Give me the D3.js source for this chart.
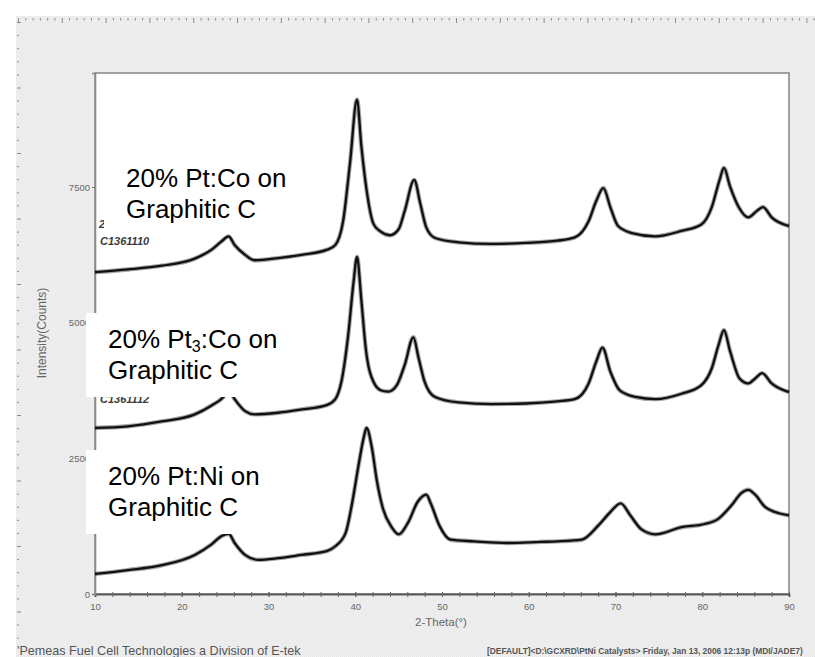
<!DOCTYPE html>
<html>
<head>
<meta charset="utf-8">
<script src="https://cdn.jsdelivr.net/npm/d3@7"></script>
<style>
  html, body { margin: 0; padding: 0; background: #fff; overflow: hidden; }
  svg { display: block; }
  text { font-family: "Liberation Sans", Arial, sans-serif; }
</style>
</head>
<body>
<svg id="chart" width="815" height="657"></svg>
<script>
// XRD patterns of carbon-supported Pt alloy catalysts (stacked, offset baselines)
const ptCoTheta  = [10.0, 13.8, 17.7, 21.5, 23.4, 24.6, 25.4, 26.1, 27.3, 28.4, 31.1, 33.8, 36.7, 37.7, 38.6, 39.4, 40.2, 40.7, 41.3, 42.1, 42.9, 44.0, 45.0, 45.7, 46.8, 47.5, 48.2, 49.2, 51.9, 55.7, 59.6, 63.3, 65.3, 66.9, 67.8, 68.6, 69.4, 70.3, 71.9, 74.6, 77.6, 79.9, 81.1, 82.0, 82.5, 83.2, 84.2, 85.3, 86.3, 87.0, 88.0, 90.0];
const ptCoCounts = [5930, 5980, 6050, 6180, 6340, 6500, 6590, 6430, 6250, 6150, 6190, 6250, 6340, 6430, 6870, 7950, 9110, 8260, 7450, 6820, 6680, 6610, 6720, 7060, 7630, 7190, 6750, 6560, 6480, 6450, 6470, 6510, 6570, 6870, 7250, 7480, 7130, 6780, 6650, 6590, 6690, 6810, 7130, 7630, 7850, 7510, 7130, 6940, 7060, 7130, 6940, 6780];

const pt3CoTheta  = [10.0, 13.8, 17.7, 21.5, 23.4, 24.8, 25.4, 26.1, 27.3, 28.4, 31.1, 33.8, 36.7, 37.7, 38.4, 39.2, 39.8, 40.2, 40.7, 41.2, 42.1, 43.0, 43.8, 44.8, 45.7, 46.7, 47.3, 48.0, 49.2, 51.9, 55.7, 59.6, 63.3, 65.3, 66.9, 67.8, 68.5, 69.4, 70.5, 72.3, 74.6, 77.6, 79.9, 81.1, 81.9, 82.5, 83.2, 84.3, 85.3, 86.1, 86.9, 88.0, 90.0];
const pt3CoCounts = [3060, 3090, 3180, 3310, 3470, 3630, 3760, 3590, 3370, 3310, 3340, 3400, 3480, 3590, 3910, 4790, 5740, 6210, 5420, 4540, 3910, 3750, 3730, 3850, 4220, 4730, 4350, 3910, 3630, 3530, 3500, 3510, 3550, 3590, 3880, 4290, 4540, 4100, 3750, 3630, 3590, 3690, 3850, 4160, 4600, 4860, 4480, 3970, 3880, 3970, 4070, 3880, 3720];

const ptNiTheta  = [10.0, 13.8, 17.7, 21.5, 23.4, 24.6, 25.4, 26.1, 27.3, 28.8, 31.1, 33.8, 36.7, 37.7, 38.9, 39.6, 40.4, 41.0, 41.3, 41.9, 42.5, 43.2, 44.2, 45.0, 46.1, 47.2, 48.2, 48.7, 49.7, 51.0, 53.7, 57.5, 61.4, 63.3, 66.1, 68.0, 69.4, 70.6, 71.7, 73.0, 74.6, 77.6, 80.3, 81.8, 83.4, 84.5, 85.3, 86.1, 87.2, 88.4, 90.0];
const ptNiCounts = [370, 440, 530, 720, 910, 1070, 1110, 940, 720, 630, 660, 720, 790, 880, 1130, 1640, 2390, 2900, 3060, 2710, 2080, 1570, 1230, 1100, 1320, 1700, 1830, 1670, 1260, 1000, 970, 940, 960, 970, 1000, 1260, 1510, 1670, 1450, 1190, 1100, 1230, 1290, 1380, 1640, 1860, 1920, 1830, 1610, 1510, 1450];

const xMajorTicks = [10, 20, 30, 40, 50, 60, 70, 80, 90];
const yMajorTicks = [0, 2500, 5000, 7500];

const sampleLabels = [
  [["20% Pt:Co on"], ["Graphitic C"]],
  [["20% Pt", "3", ":Co on"], ["Graphitic C"]],
  [["20% Pt:Ni on"], ["Graphitic C"]]
];

const svg = d3.select("#chart");
const W = 815, H = 657;

// stippled grey page background
const defs = svg.append("defs");
const pat = defs.append("pattern").attr("id", "stipple")
  .attr("width", 2).attr("height", 2).attr("patternUnits", "userSpaceOnUse");
pat.append("rect").attr("width", 2).attr("height", 2).attr("fill", "#f1f1f1");
pat.append("rect").attr("x", 0).attr("y", 0).attr("width", 1).attr("height", 1).attr("fill", "#e7e7e7");
pat.append("rect").attr("x", 1).attr("y", 1).attr("width", 1).attr("height", 1).attr("fill", "#e9e9e9");

svg.append("rect").attr("width", W).attr("height", H).attr("fill", "#fff");
svg.append("rect").attr("x", 16).attr("y", 16).attr("width", W - 16).attr("height", H - 16)
  .attr("fill", "url(#stipple)");

// page rulers
const ruler = svg.append("g").attr("stroke", "#8a8a8a").attr("stroke-width", 1);
d3.range(0, 110).forEach(i => {
  const xp = 18.5 + i * 7.3;
  if (xp > W) return;
  ruler.append("line").attr("x1", xp).attr("x2", xp)
    .attr("y1", 18).attr("y2", i % 6 === 0 ? 23 : 20.5);
});
d3.range(0, 48).forEach(i => {
  const yp = 22.5 + i * 13.1;
  if (yp > 642) return;
  ruler.append("line").attr("y1", yp).attr("y2", yp)
    .attr("x1", 17).attr("x2", i % 5 === 0 ? 21 : 19);
});

// scales
const x = d3.scaleLinear().domain([10, 90]).range([95, 789]);
const y = d3.scaleLinear().domain([0, 9600]).range([594, 73]);

// plot area
svg.append("rect").attr("x", 95).attr("y", 73).attr("width", 789 - 95).attr("height", 594 - 73)
  .attr("fill", "#fff").attr("stroke", "#8c8c8c").attr("stroke-width", 1.6);

// x axis
const xAxis = svg.append("g").attr("transform", "translate(0,594)")
  .call(d3.axisBottom(x).tickValues(xMajorTicks).tickSize(3).tickPadding(6).tickFormat(d3.format("d")));
const xMinor = svg.append("g").attr("transform", "translate(0,594)")
  .call(d3.axisBottom(x).tickValues(d3.range(12, 90, 2)).tickSize(3).tickFormat(""));
[xAxis, xMinor].forEach(g => {
  g.select(".domain").attr("stroke", "#555").attr("stroke-width", 1.4);
  g.selectAll(".tick line").attr("stroke", "#666").attr("y1", -2);
});
xAxis.selectAll(".tick text").attr("fill", "#666").attr("font-size", 9.5)
  .attr("font-family", "'Liberation Sans', Arial, sans-serif");

// y axis
const yAxis = svg.append("g").attr("transform", "translate(95,0)")
  .call(d3.axisLeft(y).tickValues(yMajorTicks).tickSize(3).tickPadding(2).tickFormat(d3.format("d")));
yAxis.select(".domain").attr("stroke", "#8c8c8c").attr("stroke-width", 1.6);
yAxis.selectAll(".tick line").attr("stroke", "#777");
yAxis.selectAll(".tick text").attr("fill", "#666").attr("font-size", 9.5)
  .attr("font-family", "'Liberation Sans', Arial, sans-serif");

// axis titles
svg.append("text").attr("x", 441).attr("y", 626).attr("text-anchor", "middle")
  .attr("font-size", 11.5).attr("fill", "#666").text("2-Theta(°)");
svg.append("text").attr("transform", "translate(46,333) rotate(-90)").attr("text-anchor", "middle")
  .attr("font-size", 12).attr("fill", "#666").text("Intensity(Counts)");

// diffraction patterns
const line = d3.line().x(d => x(d[0])).y(d => y(d[1])).curve(d3.curveMonotoneX);
const series = [
  d3.zip(ptCoTheta, ptCoCounts),
  d3.zip(pt3CoTheta, pt3CoCounts),
  d3.zip(ptNiTheta, ptNiCounts)
];
const curves = svg.append("g");
series.forEach(s => {
  curves.append("path").datum(s).attr("d", line).attr("fill", "none")
    .attr("stroke", "#000").attr("stroke-opacity", 0.35).attr("stroke-width", 4.4)
    .attr("stroke-linejoin", "round");
  curves.append("path").datum(s).attr("d", line).attr("fill", "none")
    .attr("stroke", "#111").attr("stroke-width", 2.3).attr("stroke-linejoin", "round");
});

// scan identifiers printed by the diffractometer software
const scanTag = svg.append("g").attr("font-size", 11).attr("font-weight", "bold")
  .attr("font-style", "italic").attr("fill", "#3a3a3a");
scanTag.append("text").attr("x", 99).attr("y", 228).text("2");
scanTag.append("text").attr("x", 100).attr("y", 245).text("C1361110");
scanTag.append("text").attr("x", 100).attr("y", 403).text("C1361112");

// sample name boxes, one text element per line
const boxes = [
  { x: 104, y: 150, w: 213, h: 83, tx: 126, ty: 187 },
  { x: 86, y: 313, w: 214, h: 84, tx: 108, ty: 348 },
  { x: 86, y: 450, w: 204, h: 84, tx: 108, ty: 485 }
];
boxes.forEach((b, i) => {
  svg.append("rect").attr("x", b.x).attr("y", b.y).attr("width", b.w).attr("height", b.h)
    .attr("fill", "#fff");
  sampleLabels[i].forEach((parts, li) => {
    const t = svg.append("text").attr("x", b.tx).attr("y", b.ty + li * 31)
      .attr("font-size", 26).attr("fill", "#000");
    parts.forEach((p, pi) => {
      if (parts.length === 3 && pi === 1) {
        t.append("tspan").attr("font-size", 16).attr("dy", 4).text(p);
      } else if (parts.length === 3 && pi === 2) {
        t.append("tspan").attr("dy", -4).text(p);
      } else {
        t.append("tspan").text(p);
      }
    });
  });
});

// footer
svg.append("text").attr("x", 17).attr("y", 655).attr("font-size", 12.6).attr("fill", "#555")
  .text("'Pemeas Fuel Cell Technologies a Division of E-tek");
svg.append("text").attr("x", 487).attr("y", 654).attr("font-size", 8.4).attr("fill", "#555")
  .attr("font-weight", "bold")
  .text("[DEFAULT]<D:\\GCXRD\\PtNi Catalysts> Friday, Jan 13, 2006 12:13p (MDI/JADE7)");
</script>
</body>
</html>
